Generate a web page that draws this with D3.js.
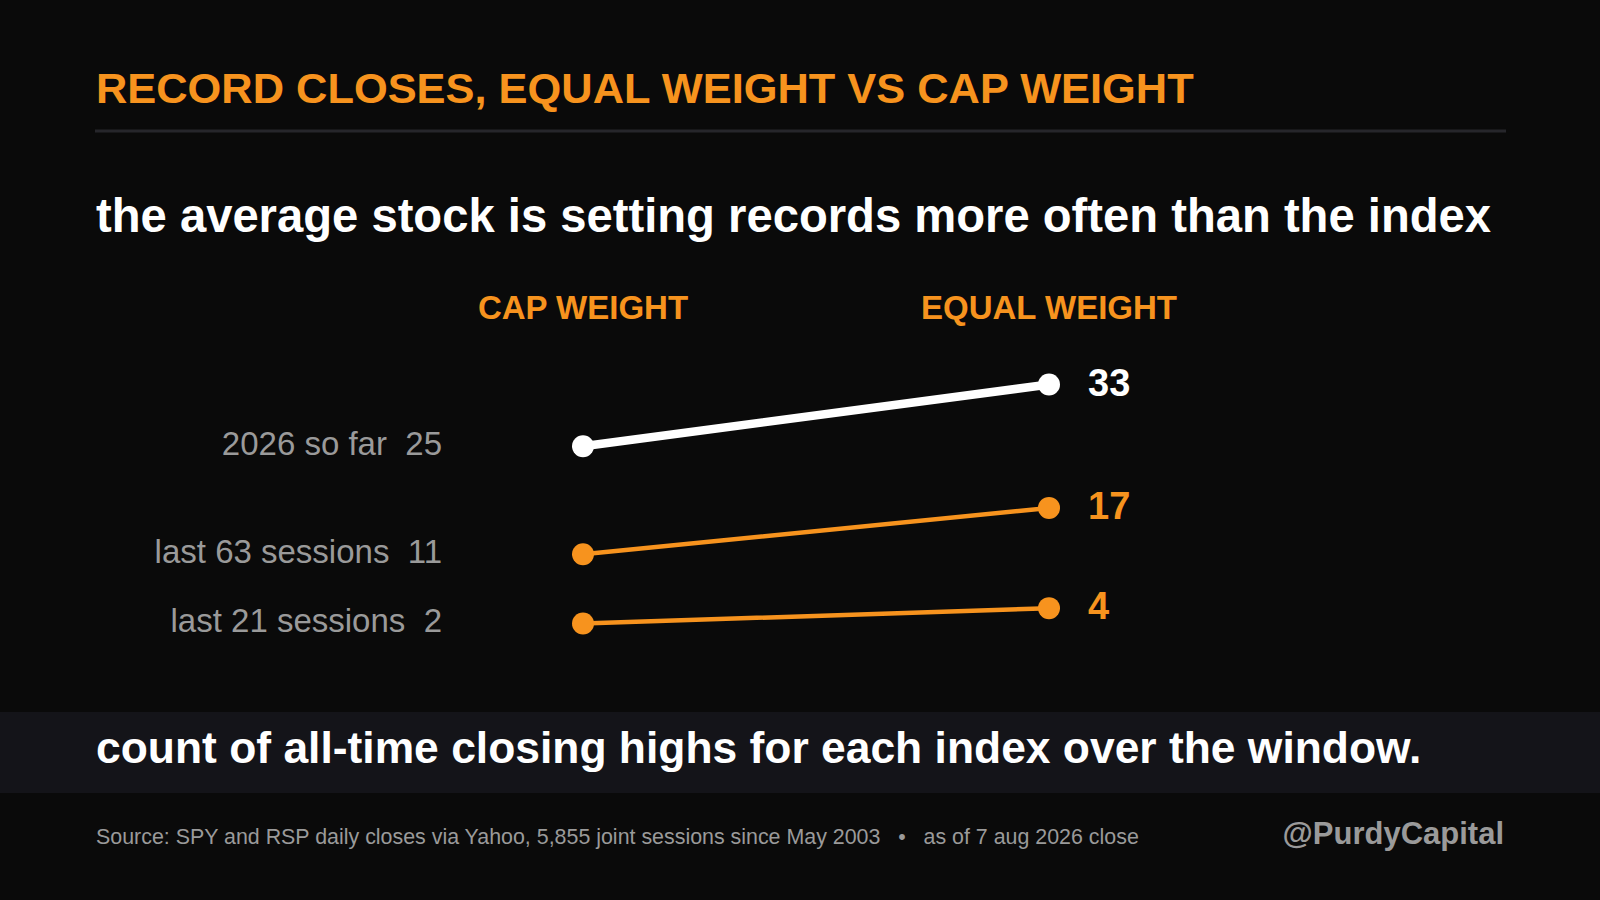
<!DOCTYPE html>
<html>
<head>
<meta charset="utf-8">
<script src="https://cdn.jsdelivr.net/npm/d3@7"></script>
<style>
  html, body { margin: 0; padding: 0; background: #0a0a0a; }
  svg { display: block; font-family: "Liberation Sans", Arial, sans-serif; }
</style>
</head>
<body>
<div id="chart"></div>
<script>
"use strict";

// == DATA ==
var columns = ["CAP WEIGHT", "EQUAL WEIGHT"];
var windows = ["2026 so far", "last 63 sessions", "last 21 sessions"];
var capWeight = [25, 11, 2];
var equalWeight = [33, 17, 4];

var titleText = "RECORD CLOSES, EQUAL WEIGHT VS CAP WEIGHT";
var subtitleText = "the average stock is setting records more often than the index";
var noteText = "count of all-time closing highs for each index over the window.";
var sourceText = "Source: SPY and RSP daily closes via Yahoo, 5,855 joint sessions since May 2003   \u2022   as of 7 aug 2026 close";
var handleText = "@PurdyCapital";

var orange = "#f7931e",
    grey = "#9a9a9a";

var rows = windows.map(function (w, i) {
  return { name: w, cap: capWeight[i], equal: equalWeight[i], highlight: i === 0 };
});

// == BOILERPLATE ==
var width = 1600, height = 900;

var svg = d3.select("#chart")
            .append("svg")
            .attr("width", width)
            .attr("height", height);

svg.append("rect")
   .attr("width", width)
   .attr("height", height)
   .attr("fill", "#0a0a0a");

// header
svg.append("text")
   .attr("x", 96)
   .attr("y", 103)
   .attr("fill", orange)
   .attr("font-size", "43.4px")
   .attr("font-weight", "bold")
   .text(titleText);

svg.append("rect")
   .attr("x", 95)
   .attr("y", 129.5)
   .attr("width", 1411)
   .attr("height", 3)
   .attr("fill", "#26262b");

svg.append("text")
   .attr("x", 96)
   .attr("y", 232)
   .attr("fill", "#ffffff")
   .attr("font-size", "47.2px")
   .attr("font-weight", "bold")
   .text(subtitleText);

// == SCALES ==
var xScale = d3.scalePoint()
               .domain(columns)
               .range([583, 1049]);

var yScale = d3.scaleLinear()
               .domain([0, 33])
               .range([639, 384.5]);

// column headers
svg.selectAll(".colhead")
   .data(columns)
   .enter()
   .append("text")
   .attr("class", "colhead")
   .attr("x", function (d) { return xScale(d); })
   .attr("y", 319)
   .attr("text-anchor", "middle")
   .attr("fill", orange)
   .attr("font-size", "33px")
   .attr("font-weight", "bold")
   .text(function (d) { return d; });

// == SLOPES ==
var g = svg.append("g");

g.selectAll("line.slope")
 .data(rows)
 .enter()
 .append("line")
 .attr("class", "slope")
 .attr("x1", xScale(columns[0]))
 .attr("x2", xScale(columns[1]))
 .attr("y1", function (d) { return yScale(d.cap); })
 .attr("y2", function (d) { return yScale(d.equal); })
 .attr("stroke", function (d) { return d.highlight ? "#ffffff" : orange; })
 .attr("stroke-width", function (d) { return d.highlight ? 8.5 : 4.5; })
 .attr("stroke-linecap", "round");

g.selectAll("circle.cap")
 .data(rows)
 .enter()
 .append("circle")
 .attr("class", "cap")
 .attr("cx", xScale(columns[0]))
 .attr("cy", function (d) { return yScale(d.cap); })
 .attr("r", 11)
 .attr("fill", function (d) { return d.highlight ? "#ffffff" : orange; });

g.selectAll("circle.equal")
 .data(rows)
 .enter()
 .append("circle")
 .attr("class", "equal")
 .attr("cx", xScale(columns[1]))
 .attr("cy", function (d) { return yScale(d.equal); })
 .attr("r", 11)
 .attr("fill", function (d) { return d.highlight ? "#ffffff" : orange; });

// left labels: window name + cap weight count
g.selectAll("text.left")
 .data(rows)
 .enter()
 .append("text")
 .attr("class", "left")
 .attr("x", 442)
 .attr("y", function (d) { return yScale(d.cap) + 8.5; })
 .attr("text-anchor", "end")
 .attr("fill", grey)
 .attr("font-size", "33px")
 .style("white-space", "pre")
 .text(function (d) { return d.name + "  " + d.cap; });

// right labels: equal weight count
g.selectAll("text.right")
 .data(rows)
 .enter()
 .append("text")
 .attr("class", "right")
 .attr("x", 1088)
 .attr("y", function (d) { return yScale(d.equal) + 11; })
 .attr("fill", function (d) { return d.highlight ? "#ffffff" : orange; })
 .attr("font-size", "38px")
 .attr("font-weight", "bold")
 .text(function (d) { return d.equal; });

// == FOOTER ==
svg.append("rect")
   .attr("x", 0)
   .attr("y", 712)
   .attr("width", width)
   .attr("height", 81)
   .attr("fill", "#141419");

svg.append("text")
   .attr("x", 96)
   .attr("y", 763)
   .attr("fill", "#ffffff")
   .attr("font-size", "44.4px")
   .attr("font-weight", "bold")
   .text(noteText);

svg.append("text")
   .attr("x", 96)
   .attr("y", 844)
   .attr("fill", grey)
   .attr("font-size", "21.4px")
   .style("white-space", "pre")
   .text(sourceText);

svg.append("text")
   .attr("x", 1504)
   .attr("y", 844)
   .attr("text-anchor", "end")
   .attr("fill", grey)
   .attr("font-size", "31px")
   .attr("font-weight", "bold")
   .text(handleText);
</script>
</body>
</html>
